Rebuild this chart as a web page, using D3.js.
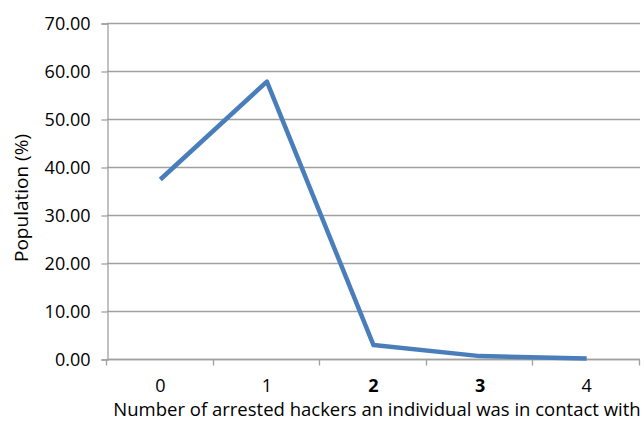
<!DOCTYPE html>
<head>
<meta charset="utf-8">
<script src="https://d3js.org/d3.v7.min.js"></script>
<style>
  body { margin: 0; background: #fff; }
  text { font-family: "Open Sans", sans-serif; fill: #000; }
</style>
</head>
<body>
<div id="vis"></div>
<script>
// values
const categories = ['0', '1', '2', '3', '4']
const boldCats = ['2', '3']
const population = [37.4, 57.8, 2.9, 0.6, 0.1]
const yTicks = [0, 10, 20, 30, 40, 50, 60, 70]

const width = 644
const height = 421
const margin = { top: 23, right: 4, bottom: 62, left: 107 }

const svg = d3.select('#vis').append('svg')
  .attr('width', width)
  .attr('height', height)

const x = d3.scaleBand()
  .domain(categories)
  .range([margin.left, width - margin.right])

const y = d3.scaleLinear()
  .domain([0, 70])
  .range([height - margin.bottom, margin.top])

// horizontal gridlines
svg.append('g')
  .selectAll('line')
  .data(yTicks)
  .join('line')
  .attr('x1', margin.left)
  .attr('x2', width - margin.right)
  .attr('y1', d => y(d) + 0.5)
  .attr('y2', d => y(d) + 0.5)
  .attr('stroke', '#a0a0a0')
  .attr('stroke-width', 1.3)

// y axis
const yAxis = svg.append('g')
  .attr('transform', `translate(${margin.left + 0.5},0.5)`)
  .call(d3.axisLeft(y).tickValues(yTicks).tickFormat(d3.format('.2f')).tickSize(6).tickPadding(11))
yAxis.select('.domain').attr('stroke', '#a0a0a0').attr('stroke-width', 1.3)
yAxis.selectAll('.tick line').attr('stroke', '#a0a0a0').attr('stroke-width', 1.3)
yAxis.selectAll('text').style('font-size', '18px').attr('dy', '0.36em')

// x axis, ticks at category boundaries
const xAxisG = svg.append('g')
  .attr('transform', `translate(0,${y(0) + 0.5})`)
xAxisG.append('line')
  .attr('x1', margin.left).attr('x2', width - margin.right)
  .attr('stroke', '#a0a0a0').attr('stroke-width', 1.3)
const bounds = categories.map(c => x(c)).concat([x.range()[1]])
xAxisG.selectAll('.xt')
  .data(bounds)
  .join('line')
  .attr('class', 'xt')
  .attr('x1', d => Math.round(d) - 0.5).attr('x2', d => Math.round(d) - 0.5)
  .attr('y1', 0).attr('y2', 6)
  .attr('stroke', '#a0a0a0').attr('stroke-width', 1.3)
xAxisG.selectAll('.xl')
  .data(categories)
  .join('text')
  .attr('class', 'xl')
  .attr('x', d => x(d) + x.bandwidth() / 2)
  .attr('y', 32)
  .attr('text-anchor', 'middle')
  .style('font-size', '18px')
  .style('font-weight', d => boldCats.includes(d) ? 'bold' : 'normal')
  .text(d => d)

// line
const line = d3.line()
  .x((d, i) => x(categories[i]) + x.bandwidth() / 2)
  .y(d => y(d))

svg.append('path')
  .datum(population)
  .attr('d', line)
  .attr('fill', 'none')
  .attr('stroke', '#4a7ebb')
  .attr('stroke-width', 4.5)
  .attr('stroke-linejoin', 'round')

// axis titles
svg.append('text')
  .attr('x', 377)
  .attr('y', 416)
  .attr('text-anchor', 'middle')
  .style('font-size', '18.5px')
  .text('Number of arrested hackers an individual was in contact with')

svg.append('text')
  .attr('transform', 'translate(28,198) rotate(-90)')
  .attr('text-anchor', 'middle')
  .style('font-size', '19px')
  .text('Population (%)')
</script>
</body>
